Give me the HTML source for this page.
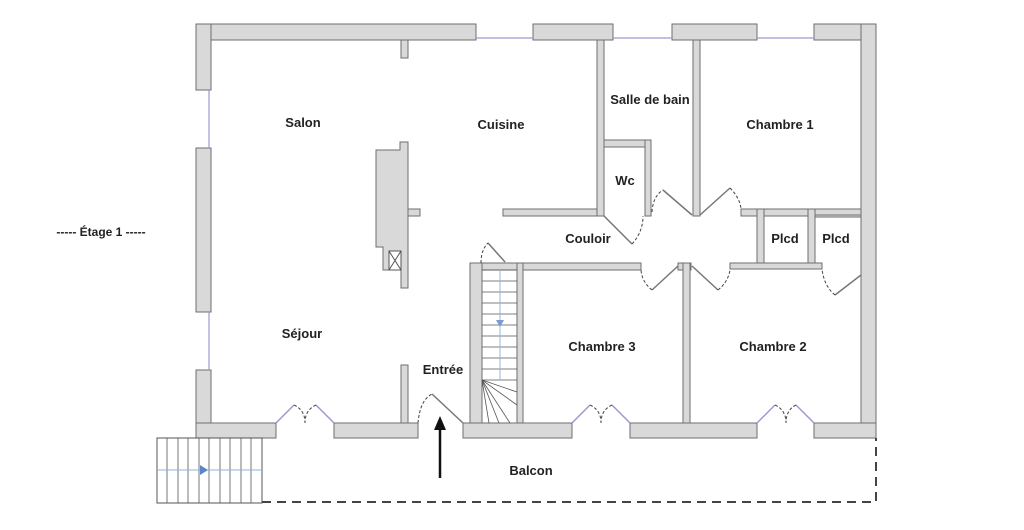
<!DOCTYPE html>
<html><head><meta charset="utf-8"><style>
html,body{margin:0;padding:0;background:#fff;width:1024px;height:530px;overflow:hidden}
svg{display:block}
text{font-family:"Liberation Sans",Arial,sans-serif;font-weight:bold;font-size:13px;fill:#222;text-anchor:middle}
</style></head><body>
<svg width="1024" height="530" viewBox="0 0 1024 530">
<g fill="#d9d9d9" stroke="#6e6e6e" stroke-width="1">
<rect x="196" y="24" width="280" height="16"/>
<rect x="533" y="24" width="80" height="16"/>
<rect x="672" y="24" width="85" height="16"/>
<rect x="814" y="24" width="62" height="16"/>
<rect x="196" y="24" width="15" height="66"/>
<rect x="196" y="148" width="15" height="164"/>
<rect x="196" y="370" width="15" height="68"/>
<rect x="861" y="24" width="15" height="414"/>
<rect x="196" y="423" width="80" height="15"/>
<rect x="334" y="423" width="84" height="15"/>
<rect x="463" y="423" width="109" height="15"/>
<rect x="630" y="423" width="127" height="15"/>
<rect x="814" y="423" width="62" height="15"/>
<rect x="401" y="40" width="7" height="18"/>
<path d="M400,142 H408 V288 H401 V270 H383 V247 H376 V150 H400 Z"/>
<rect x="401" y="365" width="7" height="58"/>
<rect x="408" y="209" width="12" height="7"/>
<rect x="503" y="209" width="100" height="7"/>
<rect x="597" y="40" width="7" height="176"/>
<rect x="693" y="40" width="7" height="176"/>
<rect x="604" y="140" width="47" height="7"/>
<rect x="645" y="140" width="6" height="76"/>
<rect x="741" y="209" width="120" height="7"/>
<rect x="757" y="209" width="7" height="59"/>
<rect x="808" y="209" width="7" height="59"/>
<rect x="815" y="215" width="46" height="2"/>
<rect x="730" y="263" width="92" height="6"/>
<rect x="476" y="263" width="165" height="7"/>
<rect x="678" y="263" width="13" height="7"/>
<rect x="683" y="263" width="7" height="160"/>
<rect x="470" y="263" width="12" height="160"/>
<rect x="517" y="263" width="6" height="160"/>
</g>
<g fill="#d9d9d9">
<rect x="197" y="25" width="13" height="14"/>
<rect x="197" y="424" width="13" height="13"/>
<rect x="862" y="25" width="13" height="14"/>
<rect x="862" y="424" width="13" height="13"/>
</g>
<rect x="389" y="251" width="12" height="19" fill="#fff" stroke="#555"/>
<path d="M389,251 L401,270 M401,251 L389,270" stroke="#555"/>
<g stroke="#9a9ad0" stroke-width="1.2">
<line x1="476" y1="38" x2="533" y2="38"/><line x1="613" y1="38" x2="672" y2="38"/><line x1="757" y1="38" x2="814" y2="38"/>
<line x1="209" y1="90" x2="209" y2="148"/><line x1="209" y1="312" x2="209" y2="370"/>
</g>
<g stroke="#555" stroke-width="0.8">
<line x1="482" y1="270" x2="517" y2="270"/><line x1="482" y1="281" x2="517" y2="281"/><line x1="482" y1="292" x2="517" y2="292"/><line x1="482" y1="303" x2="517" y2="303"/><line x1="482" y1="314" x2="517" y2="314"/><line x1="482" y1="325" x2="517" y2="325"/><line x1="482" y1="336" x2="517" y2="336"/><line x1="482" y1="347" x2="517" y2="347"/><line x1="482" y1="358" x2="517" y2="358"/><line x1="482" y1="369" x2="517" y2="369"/><line x1="482" y1="380" x2="517" y2="380"/>
<line x1="482" y1="380" x2="517" y2="392"/><line x1="482" y1="380" x2="517" y2="405"/><line x1="482" y1="380" x2="510" y2="423"/><line x1="482" y1="380" x2="499" y2="423"/><line x1="482" y1="380" x2="489" y2="423"/>
</g>
<line x1="500" y1="270" x2="500" y2="380" stroke="#9ab4dd"/>
<path d="M496,320 L504,320 L500,327 Z" fill="#7a9ad0"/>
<rect x="157" y="438" width="105" height="65" fill="#fff" stroke="#555"/>
<g stroke="#555" stroke-width="0.8">
<line x1="167" y1="438" x2="167" y2="503"/><line x1="178" y1="438" x2="178" y2="503"/><line x1="188" y1="438" x2="188" y2="503"/><line x1="199" y1="438" x2="199" y2="503"/><line x1="209" y1="438" x2="209" y2="503"/><line x1="220" y1="438" x2="220" y2="503"/><line x1="230" y1="438" x2="230" y2="503"/><line x1="241" y1="438" x2="241" y2="503"/><line x1="251" y1="438" x2="251" y2="503"/>
</g>
<line x1="157" y1="470" x2="262" y2="470" stroke="#8ab0dd"/>
<path d="M200,465 L208,470 L200,475 Z" fill="#5a86c8"/>
<path d="M262,502 H876 V438" fill="none" stroke="#444" stroke-width="2" stroke-dasharray="9,6"/>
<line x1="440" y1="478" x2="440" y2="428" stroke="#111" stroke-width="2.5"/>
<path d="M434,430 L446,430 L440,416 Z" fill="#111"/>
<g fill="none" stroke="#777" stroke-width="1.5">
<path d="M276,423 L294,405 M334,423 L316,405 M572,423 L590,405 M630,423 L612,405 M757,423 L775,405 M814,423 L796,405" stroke="#9a9ad0"/>
<path d="M463,423 L432,394"/>
<path d="M692,215 L663,190 M700,215 L730,188 M604,216 L632,244 M678,266 L652,290 M692,266 L718,290 M861,275 L835,295 M488,243 L505,262"/>
</g>
<g fill="none" stroke="#444" stroke-width="1" stroke-dasharray="3,2">
<path d="M418,423 Q420,400 432,394"/><path d="M294,405 Q305,410 305,423"/><path d="M316,405 Q305,410 305,423"/>
<path d="M590,405 Q601,410 601,423"/><path d="M612,405 Q601,410 601,423"/>
<path d="M775,405 Q786,410 786,423"/><path d="M796,405 Q786,410 786,423"/>
<path d="M652,212 Q653,196 663,190"/><path d="M730,188 Q740,198 741,209"/>
<path d="M632,244 Q643,232 643,216"/><path d="M652,290 Q642,282 641,270"/><path d="M718,290 Q728,282 730,270"/><path d="M835,295 Q824,286 822,269"/>
<path d="M481,263 Q481,250 488,243"/>
</g>
<text x="303" y="127">Salon</text>
<text x="501" y="129">Cuisine</text>
<text x="650" y="104">Salle de bain</text>
<text x="780" y="129">Chambre 1</text>
<text x="625" y="185">Wc</text>
<text x="588" y="243">Couloir</text>
<text x="785" y="243">Plcd</text>
<text x="836" y="243">Plcd</text>
<text x="302" y="338">Séjour</text>
<text x="443" y="374">Entrée</text>
<text x="602" y="351">Chambre 3</text>
<text x="773" y="351">Chambre 2</text>
<text x="531" y="475">Balcon</text>
<text x="101" y="236" style="font-size:12px">-----  Étage 1  -----</text>
</svg>
</body></html>
